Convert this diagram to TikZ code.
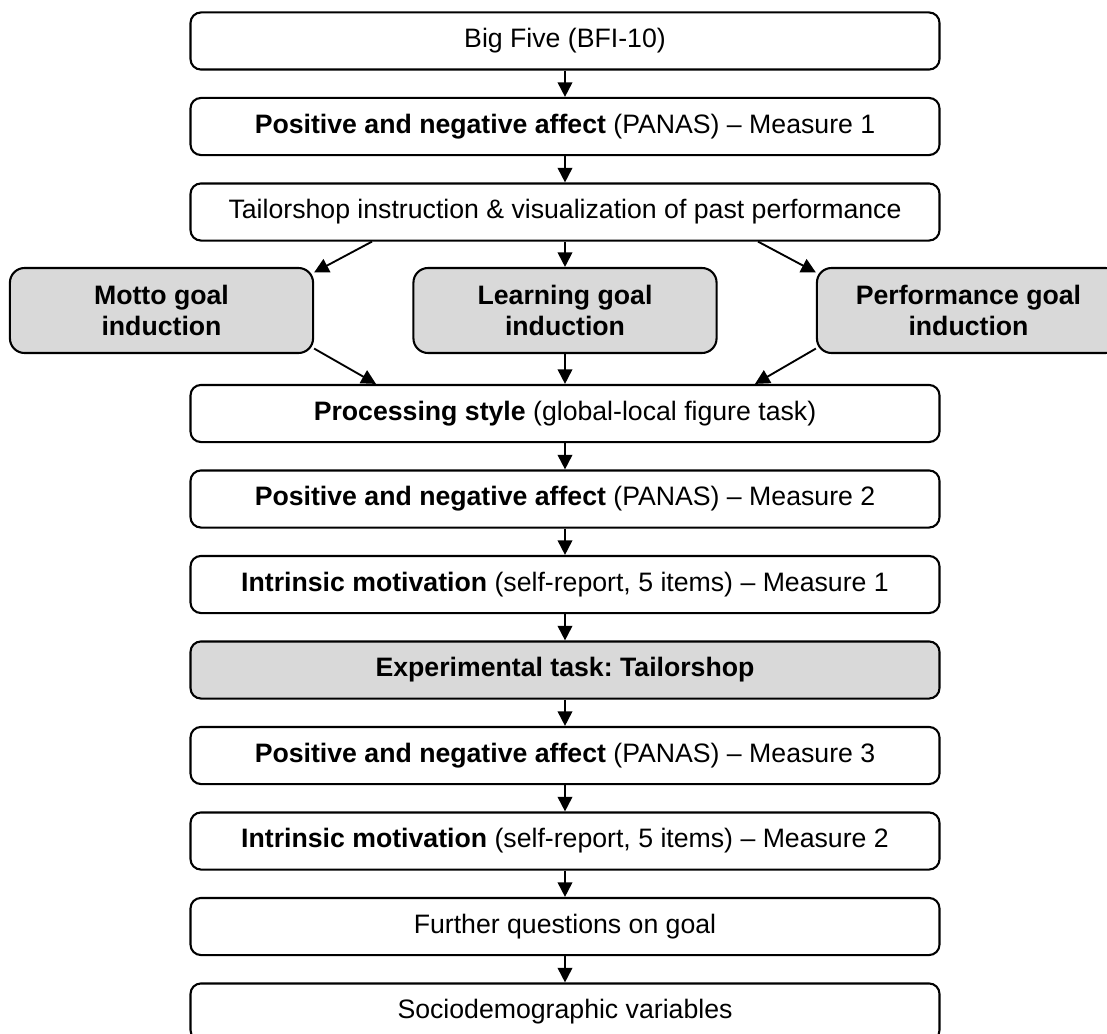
\documentclass[tikz,border=0pt]{standalone}
\usepackage{fontspec}
\setmainfont{Liberation Sans}
\usetikzlibrary{arrows.meta,calc}
\frenchspacing

\tikzset{
  stepbox/.style={draw, line width=1pt, rounded corners=5pt, minimum width=359.5pt,
    minimum height=27.4pt, inner sep=0pt, font=\fontsize{12.8}{14.6}\selectfont},
  goalbox/.style={draw, line width=1pt, rounded corners=7pt, fill=black!15, minimum width=145.5pt,
    minimum height=40.8pt, inner sep=0pt, align=center, font=\fontsize{12.8}{14.6}\selectfont\bfseries},
  arr/.style={line width=0.9pt, -{Triangle[length=7pt,width=7pt]}}
}

\begin{document}
\begin{tikzpicture}[x=0.48pt, y=-0.48pt]
\useasboundingbox (0,0) rectangle (1107,1034);

\node [stepbox] (bfi) at (565,41) {Big Five (BFI-10)};
\node [stepbox] (panasa) at (565,126.5) {\textbf{Positive and negative affect} (PANAS) -- Measure 1};
\node [stepbox] (tailor) at (565,212) {Tailorshop instruction \& visualization of past performance};

\node [goalbox] (motto) at (161.5,310.5) {Motto goal\\induction};
\node [goalbox] (learn) at (565,310.5) {Learning goal\\induction};
\node [goalbox] (perf) at (968.5,310.5) {Performance goal\\induction};

\node [stepbox] (proc) at (565,413.5) {\textbf{Processing style} (global-local figure task)};
\node [stepbox] (panasb) at (565,499) {\textbf{Positive and negative affect} (PANAS) -- Measure 2};
\node [stepbox] (intra) at (565,584.5) {\textbf{Intrinsic motivation} (self-report, 5 items) -- Measure 1};
\node [stepbox, fill=black!15] (task) at (565,670) {\textbf{Experimental task: Tailorshop}};
\node [stepbox] (panasc) at (565,755.5) {\textbf{Positive and negative affect} (PANAS) -- Measure 3};
\node [stepbox] (intrb) at (565,841) {\textbf{Intrinsic motivation} (self-report, 5 items) -- Measure 2};
\node [stepbox] (further) at (565,926.5) {Further questions on goal};
\node [stepbox] (socio) at (565,1012) {Sociodemographic variables};

% straight down
\draw [arr] (bfi) -- (panasa);
\draw [arr] (panasa) -- (tailor);
\draw [arr] (tailor) -- (learn);
\draw [arr] (learn) -- (proc);
\draw [arr] (proc) -- (panasb);
\draw [arr] (panasb) -- (intra);
\draw [arr] (intra) -- (task);
\draw [arr] (task) -- (panasc);
\draw [arr] (panasc) -- (intrb);
\draw [arr] (intrb) -- (further);
\draw [arr] (further) -- (socio);

% to and from the side goals
\draw [arr] ($(tailor.south)+(-193,0)$) -- (motto.14);
\draw [arr] ($(tailor.south)+(193,0)$) -- (perf.166);
\draw [arr] (motto.-14) -- ($(proc.north)+(-189,0)$);
\draw [arr] (perf.194) -- ($(proc.north)+(190,0)$);

\end{tikzpicture}
\end{document}
